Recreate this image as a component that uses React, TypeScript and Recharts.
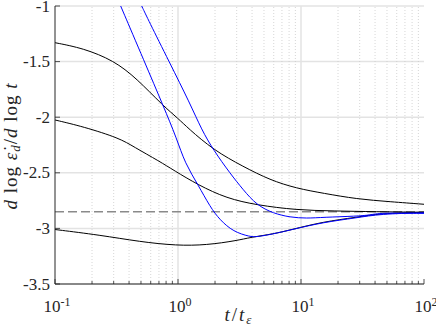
import { LineChart, Line, XAxis, YAxis, CartesianGrid, ReferenceLine, Label } from 'recharts'

const FONT = '"Liberation Serif", "Times New Roman", serif'
const INK = '#262626'

// axis ticks
const decadeTicks = [0.1, 1, 10, 100]
const minorTicks = [
  0.2, 0.3, 0.4, 0.5, 0.6, 0.7, 0.8, 0.9,
  2, 3, 4, 5, 6, 7, 8, 9,
  20, 30, 40, 50, 60, 70, 80, 90,
]
const xTicks = [...decadeTicks, ...minorTicks].sort((a, b) => a - b)
const yTicks = [-3.5, -3, -2.5, -2, -1.5, -1]
const asymptote = -2.85

// black curves
const upperBlackT = [0.1, 0.17, 0.3, 0.46, 0.76, 1.0, 1.21, 1.94, 3.4, 5.6, 9.2, 15.2, 28.4, 53, 100]
const upperBlackSlope = [-1.33, -1.38, -1.49, -1.65, -1.9, -2.01, -2.1, -2.295, -2.445, -2.565, -2.64, -2.684, -2.736, -2.76, -2.783]

const middleBlackT = [0.1, 0.17, 0.337, 0.434, 0.715, 0.916, 1.46, 2.49, 4.36, 9.2, 18.3, 40, 100]
const middleBlackSlope = [-2.025, -2.085, -2.19, -2.265, -2.4, -2.475, -2.61, -2.73, -2.79, -2.835, -2.843, -2.85, -2.855]

const lowerBlackT = [0.1, 0.232, 0.49, 0.975, 1.71, 3.0, 3.9, 5.96, 8.15, 15.2, 28.4, 43.9, 100]
const lowerBlackSlope = [-3.01, -3.06, -3.12, -3.155, -3.15, -3.11, -3.08, -3.05, -3.014, -2.94, -2.9, -2.865, -2.855]

// blue curves
const leftBlueT = [0.342, 0.533, 0.76, 0.975, 1.14, 1.46, 1.82, 2.19, 2.82, 3.85, 4.36, 5.96, 8.65, 15.2, 28.4, 43.9, 100]
const leftBlueSlope = [-1.0, -1.5, -1.9, -2.19, -2.415, -2.61, -2.805, -2.924, -3.03, -3.075, -3.077, -3.05, -3.008, -2.945, -2.905, -2.87, -2.86]

const rightBlueT = [0.507, 0.574, 0.85, 1.25, 1.56, 1.94, 2.65, 3.4, 4.36, 5.96, 8.15, 11.1, 15.2, 28.4, 36.4, 43.9, 100]
const rightBlueSlope = [-1.0, -1.126, -1.504, -1.875, -2.115, -2.295, -2.505, -2.655, -2.79, -2.865, -2.9, -2.91, -2.9, -2.89, -2.88, -2.86, -2.865]

const zip = (t: number[], s: number[]) => t.map((v, i) => ({ t: v, slope: s[i] }))

const series = [
  { key: 'upper', data: zip(upperBlackT, upperBlackSlope), color: '#000000' },
  { key: 'middle', data: zip(middleBlackT, middleBlackSlope), color: '#000000' },
  { key: 'lower', data: zip(lowerBlackT, lowerBlackSlope), color: '#000000' },
  { key: 'blueLeft', data: zip(leftBlueT, leftBlueSlope), color: '#0000ff' },
  { key: 'blueRight', data: zip(rightBlueT, rightBlueSlope), color: '#0000ff' },
]

const isMajor = (v: number) => decadeTicks.includes(v)

function BottomTick({ x, y, payload }: any) {
  const major = isMajor(payload.value)
  const exp = Math.round(Math.log10(payload.value))
  return (
    <g>
      <line x1={x} x2={x} y1={y} y2={y - (major ? 5 : 3)} stroke={INK} strokeWidth={0.8} />
      {major && (
        <text x={x + 2} y={y + 28} textAnchor="middle" fontFamily={FONT} fontSize={17} fill={INK}>
          10
          <tspan dy={-6} fontSize={12}>{String(exp)}</tspan>
        </text>
      )}
    </g>
  )
}

function TopTick({ x, y, payload }: any) {
  const major = isMajor(payload.value)
  return <line x1={x} x2={x} y1={y} y2={y + (major ? 5 : 3)} stroke={INK} strokeWidth={0.8} />
}

function LeftTick({ x, y, payload }: any) {
  return (
    <g>
      <line x1={x} x2={x + 5} y1={y} y2={y} stroke={INK} strokeWidth={0.8} />
      <text x={x - 5} y={y + 5.5} textAnchor="end" fontFamily={FONT} fontSize={17} fill={INK}>
        {String(payload.value)}
      </text>
    </g>
  )
}

function RightTick({ x, y }: any) {
  return <line x1={x} x2={x - 5} y1={y} y2={y} stroke={INK} strokeWidth={0.8} />
}

export default function App() {
  return (
    <div style={{ position: 'absolute', left: 0, top: 0, width: 436, height: 335, background: '#fff' }}>
      <LineChart width={436} height={335} margin={{ top: 6, right: 12, bottom: 0, left: 0 }}>
        <CartesianGrid horizontal vertical={false} stroke="#e3e3e3" strokeWidth={1.5} />
        {minorTicks.map((v) => (
          <ReferenceLine key={v} x={v} stroke="#cccccc" strokeWidth={0.8} strokeDasharray="1 2" />
        ))}
        {[1, 10].map((v) => (
          <ReferenceLine key={'M' + v} x={v} stroke="#e3e3e3" strokeWidth={1.5} />
        ))}
        <ReferenceLine y={asymptote} stroke="#8a8a8a" strokeWidth={1.5} strokeDasharray="9 4" />

        <XAxis
          dataKey="t"
          type="number"
          scale="log"
          domain={[0.1, 100]}
          allowDataOverflow
          ticks={xTicks}
          interval={0}
          height={51}
          tickSize={0}
          tickMargin={0}
          tickLine={false}
          axisLine={{ stroke: INK, strokeWidth: 1 }}
          tick={<BottomTick />}
        >
          <Label
            content={() => (
              <text x={239} y={321} textAnchor="middle" fontFamily={FONT} fontSize={19} letterSpacing={2} fill={INK}>
                <tspan fontStyle="italic">t</tspan>/<tspan fontStyle="italic">t</tspan>
                <tspan fontStyle="italic" fontSize={13} dy={3}>ε</tspan>
              </text>
            )}
          />
        </XAxis>
        <XAxis
          xAxisId="top"
          orientation="top"
          type="number"
          scale="log"
          domain={[0.1, 100]}
          allowDataOverflow
          ticks={xTicks}
          interval={0}
          height={0}
          tickSize={0}
          tickMargin={0}
          tickLine={false}
          axisLine={{ stroke: INK, strokeWidth: 1 }}
          tick={<TopTick />}
        />
        <YAxis
          type="number"
          domain={[-3.5, -1]}
          allowDataOverflow
          ticks={yTicks}
          interval={0}
          width={55}
          tickSize={0}
          tickMargin={0}
          tickLine={false}
          axisLine={{ stroke: INK, strokeWidth: 1 }}
          tick={<LeftTick />}
        >
          <Label
            content={() => (
              <text
                transform="translate(17, 146) rotate(-90)"
                textAnchor="middle"
                fontFamily={FONT}
                fontSize={19}
                letterSpacing={1}
                fill={INK}
              >
                <tspan fontStyle="italic">d</tspan>
                {' log '}
                <tspan fontStyle="italic">ε̇</tspan>
                <tspan fontStyle="italic" fontSize={13} dy={3}>d</tspan>
                <tspan dy={-3}>/</tspan>
                <tspan fontStyle="italic">d</tspan>
                {' log '}
                <tspan fontStyle="italic">t</tspan>
              </text>
            )}
          />
        </YAxis>
        <YAxis
          yAxisId="right"
          orientation="right"
          type="number"
          domain={[-3.5, -1]}
          allowDataOverflow
          ticks={yTicks}
          interval={0}
          width={0}
          tickSize={0}
          tickMargin={0}
          tickLine={false}
          axisLine={{ stroke: INK, strokeWidth: 1 }}
          tick={<RightTick />}
        />

        {series.map((s) => (
          <Line
            key={s.key}
            data={s.data}
            dataKey="slope"
            type="basis"
            stroke={s.color}
            strokeWidth={1}
            dot={false}
            activeDot={false}
            isAnimationActive={false}
          />
        ))}
      </LineChart>
    </div>
  )
}
